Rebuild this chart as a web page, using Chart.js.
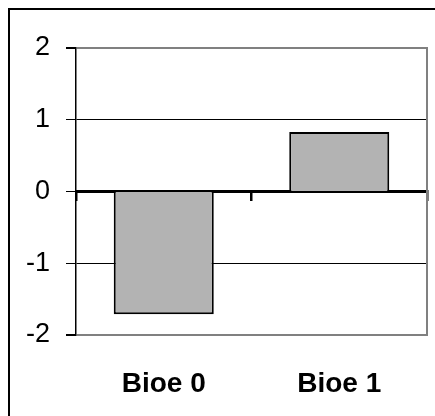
<!DOCTYPE html>
<html lang="en">
<head>
    <meta charset="UTF-8">
    <title>Bioe</title>
    <style>
        body {
            margin: 0;
            background: #fff;
            overflow: hidden;
        }
        .wrap {
            position: relative;
            width: 435px;
            height: 416px;
        }
        .frame {
            position: absolute;
            left: 8px;
            top: 8px;
            width: 600px;
            height: 600px;
            border-left: 2px solid #000;
            border-top: 2px solid #000;
            pointer-events: none;
        }
    </style>
    <script src="https://cdn.jsdelivr.net/npm/chart.js"></script>
</head>
<body>
    <div class="wrap">
        <canvas id="bioeChart" width="435" height="416"></canvas>
        <div class="frame"></div>
    </div>

    <script>
        const categories = ['Bioe 0', 'Bioe 1'];
        const values = [-1.71, 0.83];
        const yTicks = [-2, -1, 0, 1, 2];

        const fontFamily = '"Liberation Sans", Arial, sans-serif';

        const ctx = document.getElementById('bioeChart').getContext('2d');
        new Chart(ctx, {
            type: 'bar',
            data: {
                labels: categories,
                datasets: [{
                    data: values,
                    backgroundColor: '#b3b3b3',
                    borderColor: '#000',
                    borderWidth: 2,
                    barPercentage: 0.57,
                    categoryPercentage: 1
                }]
            },
            options: {
                responsive: false,
                animation: false,
                events: [],
                layout: { padding: { top: 48, right: 0, bottom: 0, left: 0 } },
                plugins: {
                    legend: { display: false },
                    tooltip: { enabled: false }
                },
                scales: {
                    // axis line through zero with tick marks between categories
                    x: {
                        type: 'category',
                        position: { y: 0 },
                        offset: true,
                        grid: {
                            offset: true,
                            drawOnChartArea: false,
                            color: '#000',
                            lineWidth: 2.5,
                            tickLength: 8
                        },
                        border: { color: '#000', width: 3 },
                        ticks: { display: false }
                    },
                    // category labels at the bottom
                    x2: {
                        type: 'category',
                        position: 'bottom',
                        labels: categories,
                        offset: true,
                        grid: { display: false },
                        border: { display: false },
                        ticks: {
                            color: '#000',
                            padding: 24,
                            font: { family: fontFamily, size: 28, weight: 'bold' }
                        },
                        afterFit: (scale) => { scale.height = 81; }
                    },
                    y: {
                        min: yTicks[0],
                        max: yTicks[yTicks.length - 1],
                        afterBuildTicks: (scale) => {
                            scale.ticks = yTicks.map(v => ({ value: v }));
                        },
                        grid: {
                            color: (c) => Math.abs(c.tick.value) === 2 ? '#808080' : '#000',
                            lineWidth: (c) => Math.abs(c.tick.value) === 2 ? 2 : 1,
                            tickColor: '#000',
                            tickLength: 10
                        },
                        border: { color: '#000', width: 1.5 },
                        ticks: {
                            color: '#000',
                            padding: 16,
                            font: { family: fontFamily, size: 27 }
                        },
                        afterFit: (scale) => { scale.width = 76; }
                    },
                    // right edge of the plot area
                    y2: {
                        position: 'right',
                        min: -2,
                        max: 2,
                        grid: { display: false },
                        border: { color: '#808080', width: 2 },
                        ticks: { display: false },
                        afterFit: (scale) => { scale.width = 8; }
                    }
                }
            }
        });
    </script>
</body>
</html>
